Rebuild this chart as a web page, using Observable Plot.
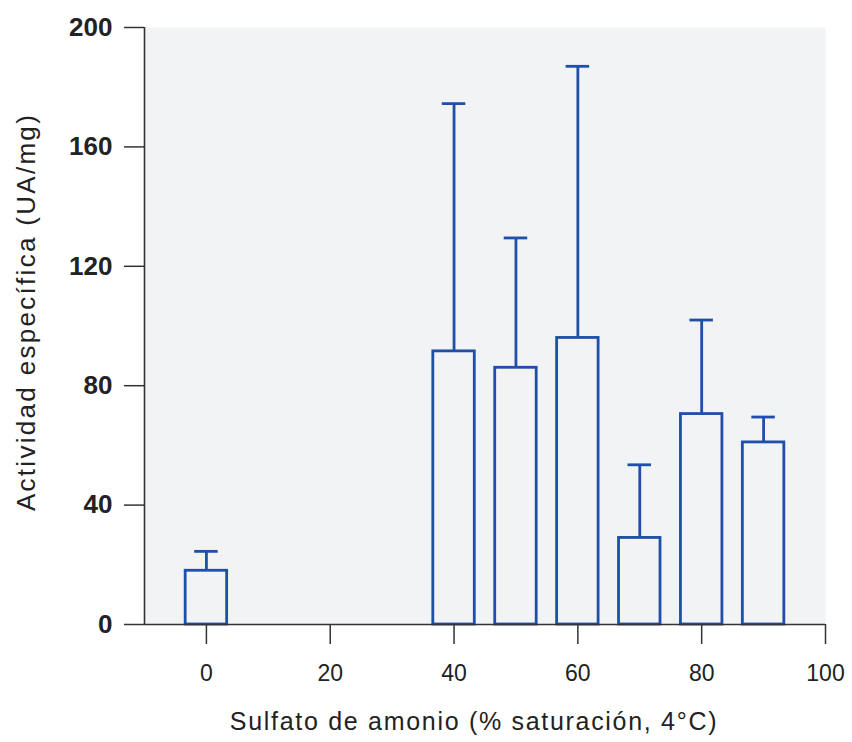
<!DOCTYPE html>
<html>
<head>
<meta charset="utf-8">
<script src="https://cdn.jsdelivr.net/npm/d3@7"></script>
<script src="https://cdn.jsdelivr.net/npm/@observablehq/plot@0.6"></script>
<style>
  html, body { margin: 0; padding: 0; background: #ffffff; }
  #chart svg { display: block; }
</style>
</head>
<body>
<div id="chart"></div>
<script>
// Ammonium sulfate saturation (%) for each fraction
const saturation = [0, 40, 50, 60, 70, 80, 90];
// Mean specific activity (UA/mg)
const activity = [18, 91.5, 86, 96, 29, 70.5, 61];
// Upper error (standard deviation) above each mean
const sd = [6.5, 83, 43.5, 91, 24.5, 31.5, 8.5];
// Axis ticks
const xTicks = [0, 20, 40, 60, 80, 100];
const yTicks = [0, 40, 80, 120, 160, 200];

const xTitle = "Sulfato de amonio (% saturación, 4°C)";
const yTitle = "Actividad específica (UA/mg)";

const halfWidth = 3.35;  // half bar width, in % saturation units
const capHalf = 1.9;     // half error-cap width

const rows = saturation.map((s, i) => ({s, mean: activity[i], top: activity[i] + sd[i]}));

const blue = "#1f4fa8";
const ink = "#222";

const chart = Plot.plot({
  width: 852,
  height: 742,
  marginLeft: 144,
  marginRight: 27,
  marginTop: 27,
  marginBottom: 118,
  style: {fontFamily: "'Liberation Sans', Arial, sans-serif", color: ink, background: "#ffffff"},
  x: {domain: [-10, 100]},
  y: {domain: [0, 200]},
  marks: [
    Plot.frame({fill: "#f2f3f4", stroke: null}),
    // error bars (upper only)
    Plot.ruleX(rows, {x: "s", y1: "mean", y2: "top", stroke: blue, strokeWidth: 2.8}),
    Plot.ruleY(rows, {y: "top", x1: d => d.s - capHalf, x2: d => d.s + capHalf, stroke: blue, strokeWidth: 2.8}),
    // open bars
    Plot.rectY(rows, {x1: d => d.s - halfWidth, x2: d => d.s + halfWidth, y1: 0, y2: "mean", fill: "none", stroke: blue, strokeWidth: 2.8}),
    // axes
    Plot.axisY({ticks: yTicks, tickSize: 20, tickPadding: 12, fontSize: 26, fontWeight: "bold", stroke: "#333", strokeWidth: 1.5, label: null}),
    Plot.axisX({ticks: xTicks, tickSize: 20, tickPadding: 20, fontSize: 23, stroke: "#333", strokeWidth: 1.5, label: null}),
    Plot.ruleX([-10], {y1: 0, y2: 200, stroke: "#333", strokeWidth: 1.6}),
    Plot.ruleY([0], {stroke: "#333", strokeWidth: 1.6}),
    // axis titles
    Plot.text([xTitle], {frameAnchor: "bottom", dy: 97, dx: -11, fontSize: 25, fill: ink, lineAnchor: "middle"}),
    Plot.text([yTitle], {frameAnchor: "left", textAnchor: "middle", rotate: -90, dx: -118, dy: -14, fontSize: 26, fill: ink, lineAnchor: "middle"})
  ]
});

// widen the titles' letter spacing
const svg = d3.select(chart);
svg.selectAll("text").filter(function () { return this.textContent === yTitle; }).style("letter-spacing", "2.3px");
svg.selectAll("text").filter(function () { return this.textContent === xTitle; }).style("letter-spacing", "1.7px");

document.getElementById("chart").appendChild(chart);
</script>
</body>
</html>
